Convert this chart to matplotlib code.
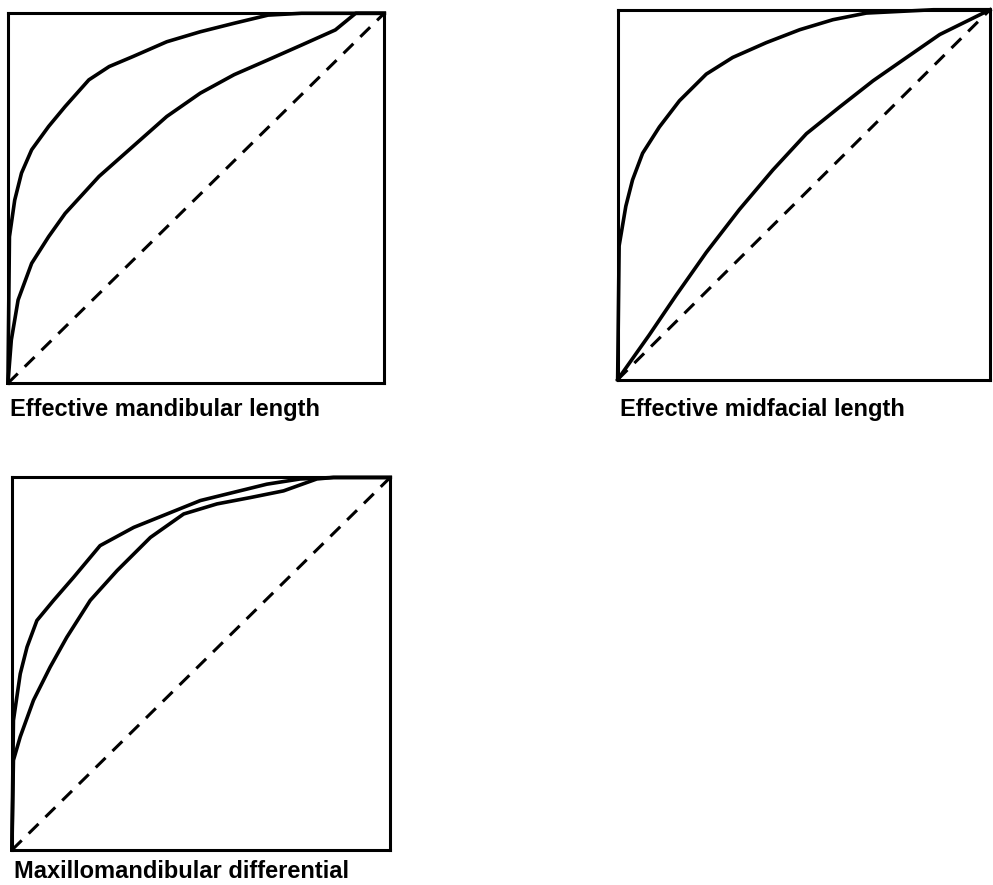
import matplotlib
matplotlib.use("Agg")
import matplotlib.pyplot as plt

# ROC-style curves (false positive rate, true positive rate)
mand_upper_x = [0.0, 0.004, 0.018, 0.036, 0.063, 0.108, 0.152, 0.215, 0.269, 0.332, 0.422, 0.511, 0.601, 0.691, 0.78, 1.0]
mand_upper_y = [0.0, 0.396, 0.495, 0.568, 0.631, 0.694, 0.748, 0.820, 0.856, 0.883, 0.923, 0.950, 0.973, 0.995, 1.0, 1.0]
mand_lower_x = [0.0, 0.009, 0.027, 0.063, 0.108, 0.152, 0.242, 0.332, 0.422, 0.511, 0.601, 0.691, 0.78, 0.87, 0.924, 1.0]
mand_lower_y = [0.0, 0.117, 0.225, 0.324, 0.396, 0.459, 0.559, 0.640, 0.721, 0.784, 0.834, 0.874, 0.914, 0.955, 1.0, 1.0]

mid_upper_x = [0.0, 0.004, 0.022, 0.040, 0.067, 0.112, 0.166, 0.238, 0.309, 0.399, 0.489, 0.578, 0.668, 0.848, 1.0]
mid_upper_y = [0.0, 0.362, 0.469, 0.540, 0.612, 0.683, 0.754, 0.826, 0.871, 0.911, 0.946, 0.973, 0.991, 1.0, 1.0]
mid_lower_x = [0.0, 0.085, 0.157, 0.238, 0.327, 0.417, 0.507, 0.596, 0.686, 0.776, 0.865, 1.0]
mid_lower_y = [0.0, 0.121, 0.228, 0.344, 0.460, 0.567, 0.665, 0.737, 0.808, 0.871, 0.933, 1.0]

diff_upper_x = [0.0, 0.004, 0.022, 0.040, 0.066, 0.110, 0.163, 0.233, 0.322, 0.410, 0.498, 0.586, 0.674, 0.762, 0.85, 1.0]
diff_upper_y = [0.0, 0.348, 0.473, 0.545, 0.616, 0.670, 0.732, 0.817, 0.866, 0.902, 0.938, 0.960, 0.982, 0.996, 1.0, 1.0]
diff_lower_x = [0.0, 0.004, 0.022, 0.057, 0.101, 0.145, 0.207, 0.278, 0.366, 0.454, 0.542, 0.630, 0.718, 0.806, 0.85, 1.0]
diff_lower_y = [0.0, 0.241, 0.304, 0.402, 0.491, 0.571, 0.670, 0.750, 0.839, 0.902, 0.929, 0.946, 0.964, 0.996, 1.0, 1.0]

titles = [
    "Effective mandibular length",
    "Effective midfacial length",
    "Maxillomandibular differential",
]

panels = [
    (mand_upper_x, mand_upper_y, mand_lower_x, mand_lower_y),
    (mid_upper_x, mid_upper_y, mid_lower_x, mid_lower_y),
    (diff_upper_x, diff_upper_y, diff_lower_x, diff_lower_y),
]

# axes boxes in figure fractions, and label baseline offset below each box
boxes = [
    [0.008, 0.567, 0.379, 0.418],
    [0.622, 0.571, 0.375, 0.418],
    [0.012, 0.0395, 0.381, 0.421],
]
label_y = [-0.09, -0.097, -0.075]

fig = plt.figure(figsize=(9.93, 8.85), dpi=100, facecolor="white")

for i in range(3):
    ax = fig.add_axes(boxes[i])
    ux, uy, lx, ly = panels[i]
    ax.plot(ux, uy, color="black", lw=2.6, solid_joinstyle="round", clip_on=False)
    ax.plot(lx, ly, color="black", lw=2.6, solid_joinstyle="round", clip_on=False)
    ax.plot([0, 1], [0, 1], color="black", lw=2.2, linestyle=(0, (4.5, 3.2)), clip_on=False)
    ax.set_xlim(0, 1)
    ax.set_ylim(0, 1)
    ax.set_xticks([])
    ax.set_yticks([])
    for sp in ax.spines.values():
        sp.set_linewidth(2.2)
    ax.text(0.005, label_y[i], titles[i], transform=ax.transAxes, ha="left", va="baseline",
            fontsize=17, fontweight="bold", family="Liberation Sans")

fig.savefig("out.png", dpi=100, facecolor="white")
